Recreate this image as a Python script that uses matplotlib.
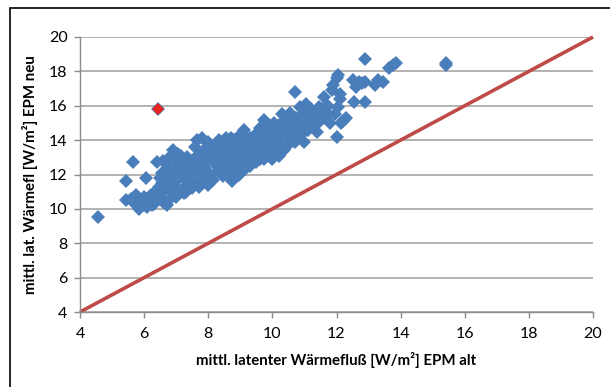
import numpy as np
import matplotlib
matplotlib.use("Agg")
import matplotlib.pyplot as plt
from matplotlib.patches import Rectangle

# EPM alt (x) vs EPM neu (y)
x_vals = [4.55, 5.43, 5.43, 5.65, 6.05, 5.6, 5.75, 5.85, 5.9, 6.0, 6.1, 6.15, 5.7, 6.0,
          6.25, 6.3, 6.35, 6.4, 6.45, 6.5, 6.55, 6.6, 6.6, 6.3, 6.45, 6.55, 6.5,
          6.65, 6.7, 6.7, 6.75, 6.8, 6.8, 6.85, 6.9, 6.9, 6.95, 7.0, 7.0, 7.05, 7.0, 6.75, 6.85,
          7.1, 7.1, 7.15, 7.2, 7.25, 7.25, 7.3, 7.35, 7.35, 7.4, 7.45, 7.5, 7.5, 7.2, 7.3,
          7.55, 7.6, 7.6, 7.65, 7.7, 7.7, 7.75, 7.8, 7.8, 7.85, 7.9, 7.95, 8.0, 8.0, 8.0, 7.65,
          8.05, 8.1, 8.15, 8.2, 8.25, 8.3, 8.3, 8.35, 8.4, 8.45, 8.5, 8.5, 8.15, 8.4,
          8.55, 8.6, 8.6, 8.65, 8.7, 8.75, 8.75, 8.8, 8.85, 8.9, 8.9, 8.95, 9.0, 9.0, 8.7,
          9.05, 9.1, 9.1, 9.15, 9.2, 9.25, 9.3, 9.3, 9.35, 9.4, 9.45, 9.5, 9.5, 9.2,
          9.55, 9.6, 9.6, 9.65, 9.7, 9.75, 9.75, 9.8, 9.85, 9.9, 9.95, 10.0, 10.0, 10.0,
          10.05, 10.1, 10.1, 10.15, 10.2, 10.25, 10.3, 10.3, 10.35, 10.4, 10.45, 10.5, 10.5, 10.2,
          10.55, 10.6, 10.6, 10.65, 10.7, 10.7, 10.75, 10.8, 10.85, 10.9, 10.95, 11.0, 11.0, 11.05,
          11.1, 11.15, 11.2, 11.2, 11.25, 11.3, 11.35, 11.4, 11.45, 11.5, 11.5,
          11.55, 11.6, 11.65, 11.7, 11.8, 11.85, 11.9, 11.95, 12.0, 12.05, 12.0, 12.05, 12.1, 12.1,
          12.15, 12.2, 12.3, 11.75,
          12.5, 12.55, 12.6, 12.7, 12.8, 12.9, 12.9, 12.9, 13.2, 13.3, 13.45, 13.65, 13.75, 13.85,
          15.4, 15.4,
          6.2, 6.9, 7.45, 7.9, 8.25, 8.65, 9.15, 9.6, 10.05, 10.45, 10.9, 11.35]
y_vals = [9.5, 11.6, 10.5, 12.7, 11.8, 10.6, 10.8, 10.0, 10.4, 10.7, 10.1, 10.5, 10.3, 10.2,
          10.2, 10.6, 11.0, 12.75, 11.3, 10.9, 11.5, 10.4, 12.8, 10.3, 10.7, 12.1, 11.8,
          11.1, 10.2, 11.7, 12.4, 13.0, 10.6, 11.4, 13.4, 12.0, 10.9, 11.6, 12.7, 13.2, 10.7, 12.9, 12.2,
          11.1, 12.3, 13.1, 11.8, 12.8, 10.9, 12.1, 11.4, 13.0, 11.9, 12.5, 11.2, 12.0, 12.5, 11.0,
          12.9, 11.5, 13.6, 14.0, 12.3, 11.3, 13.2, 12.6, 14.1, 11.8, 13.5, 12.2, 11.4, 12.9, 13.9, 12.7,
          12.0, 13.3, 11.7, 12.6, 13.8, 12.2, 13.1, 14.0, 12.8, 11.9, 13.5, 12.4, 12.9, 13.6,
          14.1, 12.1, 13.0, 13.7, 12.6, 11.6, 13.3, 14.0, 12.3, 12.9, 13.6, 12.0, 13.2, 14.3, 14.1,
          12.6, 14.6, 13.8, 12.3, 13.4, 12.9, 14.1, 12.5, 13.6, 13.1, 14.3, 12.7, 13.9, 14.0,
          13.3, 14.7, 12.9, 14.0, 13.5, 15.2, 12.9, 14.4, 13.7, 13.1, 14.8, 12.9, 14.1, 13.5,
          15.0, 13.3, 14.5, 13.8, 14.9, 13.5, 14.2, 15.5, 13.4, 14.7, 15.2, 13.7, 14.4, 13.1,
          15.6, 14.1, 15.0, 14.5, 16.8, 13.9, 15.3, 14.8, 15.9, 14.3, 15.5, 13.9, 15.0, 16.1,
          14.6, 15.4, 15.8, 14.9, 15.2, 14.8, 15.6, 14.5, 15.9, 15.1, 15.5,
          15.8, 16.5, 15.3, 15.6, 15.0, 16.9, 17.2, 15.5, 17.6, 17.8, 14.2, 15.9, 16.7, 16.4,
          15.0, 15.1, 15.3, 16.0,
          17.5, 16.2, 17.1, 17.4, 17.3, 18.7, 17.4, 16.2, 17.2, 17.5, 17.4, 18.2, 18.35, 18.5,
          18.5, 18.35,
          10.8, 11.9, 12.7, 12.4, 12.9, 12.7, 13.1, 13.9, 13.8, 14.1, 14.6, 15.2]
# highlighted point
x_red = [6.42]
y_red = [15.8]
# 1:1 line
x_line = [4, 20]
y_line = [4, 20]
ticks = [4, 6, 8, 10, 12, 14, 16, 18, 20]

plt.rcParams['font.family'] = ['Lato', 'DejaVu Sans']

fig = plt.figure(figsize=(6.1, 3.87), dpi=100)
ax = fig.add_axes([80/610, 1-312/387, 513/610, 275/387])

blue = '#4A7EBB'
ax.plot(x_vals, y_vals, linestyle='none', marker='D', ms=7.6, color=blue,
        markeredgewidth=0, zorder=3)
ax.plot(x_red, y_red, linestyle='none', marker='D', ms=7.6, color=blue,
        markeredgewidth=0, zorder=4)
ax.plot(x_red, y_red, linestyle='none', marker='D', ms=5.8, color='#E8231F',
        markeredgewidth=0, zorder=5)
ax.plot(x_line, y_line, color='#BE4B48', lw=2.6, zorder=2, clip_on=False,
        solid_capstyle='butt')

ax.set_xlim(4, 20)
ax.set_ylim(4, 20)
ax.set_xticks(ticks)
ax.set_yticks(ticks)
ax.yaxis.grid(True, color='#A6A6A6', lw=1.2)
ax.set_axisbelow(True)
for s in ['top', 'right']:
  ax.spines[s].set_visible(False)
for s in ['left', 'bottom']:
  ax.spines[s].set_color('#8C8C8C')
  ax.spines[s].set_linewidth(1.0)
ax.tick_params(axis='both', direction='out', length=4, color='#8C8C8C',
               labelsize=11.5, width=1.0)
ax.tick_params(axis='x', pad=7)
ax.tick_params(axis='y', pad=5)

ax.set_xlabel('mittl. latenter Wärmefluß [W/m²] EPM alt', fontsize=10.8,
              fontweight='bold', labelpad=8)
ax.set_ylabel('mittl. lat. Wärmefl [W/m²] EPM neu', fontsize=10.8,
              fontweight='bold', labelpad=8)

# outer chart frame
fig.add_artist(Rectangle((10/610, -0.2), 1.2, 1.2 - 8/387, transform=fig.transFigure,
                         fill=False, edgecolor='black', lw=1.2))

fig.savefig('out.png', dpi=100)
